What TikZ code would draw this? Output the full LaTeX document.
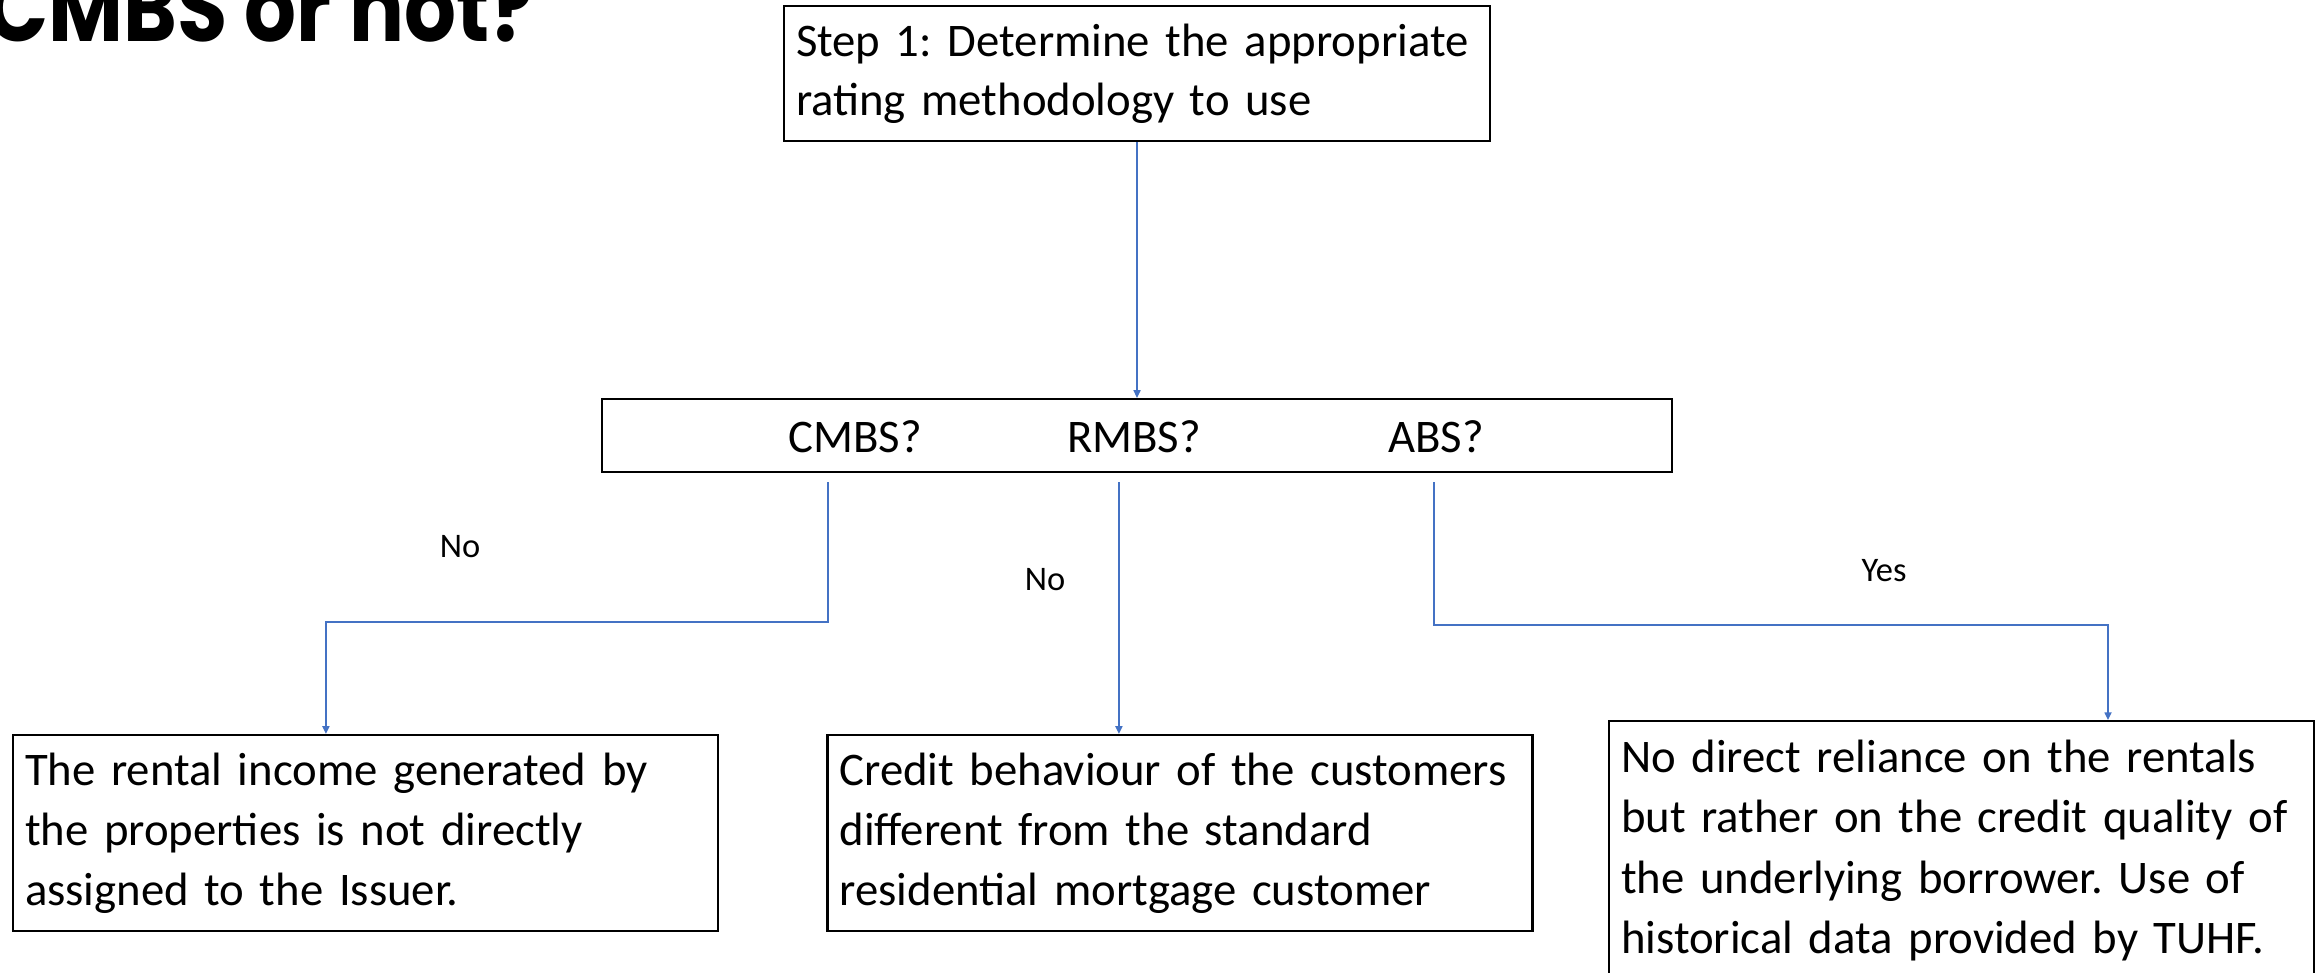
\documentclass[tikz,border=0pt]{standalone}
\usepackage{fontspec}
\setmainfont{Carlito}
\newfontfamily\titlefont{Poppins}[FakeStretch=0.86]
\usepackage{tikz}
\usetikzlibrary{arrows.meta, positioning, calc}
\definecolor{linkblue}{HTML}{4472C4}
\definecolor{boxline}{HTML}{000000}
\frenchspacing
\tikzset{
  titletext/.style={
    inner sep=0pt, font=\titlefont\bfseries\fontsize{27}{30}\selectfont,
  },
  stepbox/.style={
    rectangle, draw=boxline, line width=0.6pt,
    minimum width=7.06cm, minimum height=1.35cm,
    text width=6.82cm, inner sep=0.12cm, align=left,
    font=\fontsize{13.3}{16.8}\selectfont,
  },
  choicebox/.style={
    rectangle, draw=boxline, line width=0.6pt,
    minimum width=10.70cm, minimum height=0.73cm,
  },
  question/.style={
    inner sep=0pt, font=\fontsize{13.3}{16}\selectfont,
  },
  outcome/.style={
    rectangle, draw=boxline, line width=0.6pt,
    minimum width=7.05cm, minimum height=1.96cm,
    text width=6.81cm, inner sep=0.12cm, align=left,
    font=\fontsize{13.3}{17.1}\selectfont,
  },
  connector/.style={-{Triangle[length=2.2pt,width=2pt]}, line width=0.45pt, color=linkblue},
  answer/.style={inner sep=0pt, font=\fontsize{9.8}{12}\selectfont},
}
\begin{document}
\begin{tikzpicture}

  \useasboundingbox (0,0) rectangle (23.2,-9.73);

  \node[titletext, anchor=base west] (title) at (-0.14,-0.42) {CMBS or not?};

  \node[stepbox] (step1) at (11.37,-0.735) {Step 1: Determine the appropriate\\rating methodology to use};
  \node[choicebox] (choice) at (11.37,-4.355) {};
  \node[question] (qcmbs) at (8.55,-4.365) {CMBS?};
  \node[question] (qrmbs) at (11.34,-4.365) {RMBS?};
  \node[question] (qabs) at (14.36,-4.365) {ABS?};

  \node[outcome] (cmbs) at (3.655,-8.33) {The rental income generated by\\the properties is not directly\\assigned to the Issuer.};
  \node[outcome] (rmbs) at (11.80,-8.33) {Credit behaviour of the customers\\different from the standard\\residential mortgage customer};
  \node[outcome, minimum height=2.59cm, anchor=north west] (abs) at (16.08,-7.20) {No direct reliance on the rentals\\but rather on the credit quality of\\the underlying borrower. Use of\\historical data provided by TUHF.};

  \node[answer] (nocmbs) at (4.60,-5.47) {No};
  \node[answer] (normbs) at (10.45,-5.80) {No};
  \node[answer] (yesabs) at (18.84,-5.71) {Yes};

  \draw[connector] (step1.south) -- (choice.north);
  \draw[connector] ($(choice.south west)+(2.27,-0.09)$) -- ++(0,-1.40) -| ($(cmbs.north west)+(3.14,0)$);
  \draw[connector] ($(choice.south west)+(5.18,-0.09)$) coordinate (rfork) -- (rfork |- rmbs.north);
  \draw[connector] ($(choice.south west)+(8.33,-0.09)$) -- ++(0,-1.43) -| ($(abs.north west)+(5.00,0)$);

\end{tikzpicture}
\end{document}
